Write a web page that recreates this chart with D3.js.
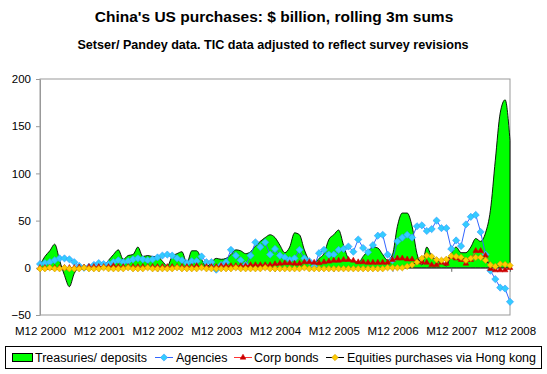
<!DOCTYPE html>
<html>
<head>
<meta charset="utf-8">
<script src="https://cdn.jsdelivr.net/npm/d3@7"></script>
<style>
  body { margin: 0; background: #fff; }
  svg { display: block; font-family: Arial, "Liberation Sans", sans-serif; }
</style>
</head>
<body>
<div id="chart"></div>
<script>
// months M12 2000 .. M12 2008
const months = ['M12 2000'];
for (let yr = 2001; yr <= 2008; yr++) {
    for (let m = 1; m <= 12; m++) months.push('M' + m + ' ' + yr);
}
const xLabels = ['M12 2000', 'M12 2001', 'M12 2002', 'M12 2003', 'M12 2004',
    'M12 2005', 'M12 2006', 'M12 2007', 'M12 2008'];
const yTicks = [-50, 0, 50, 100, 150, 200];

const treasuries = [3, 12, 18, 25, 8, -8, -20, -6, 0, 0,
    0, 1, 1, 2, 8, 14, 19, 9, 13, 14,
    22, 12, 13, 12, 12, 7, 2, 12, 15, 17,
    5, 18, 18, 9, 1, 6, 10, 9, 10, 14,
    19, 18, 15, 17, 23, 28, 32, 35, 32, 24,
    16, 22, 37, 35, 19, 8, 5, 10, 15, 30,
    35, 40, 24, 10, 7, 5, 12, 18, 22, 21,
    14, 8, 14, 44, 58, 58, 44, 15, 3, 22,
    12, 7, 6, 2, 15, 22, 16, 16, 22, 31,
    28, 37, 61, 114, 164, 178, 135];
const agencies = [4, 5, 6, 8, 10, 10, 9, 6, 2, 0,
    1, 3, 5, 4, 4, 6, 8, 6, 7, 9,
    10, 9, 8, 9, 11, 13, 14, 13, 10, 8,
    5, 7, 7, 12, 6, 6, -2, 3, 6, 19,
    13, 8, 3, 13, 27, 22, 27, 14, 20, 13,
    11, 8.5, 10, 19, 10, 7, 1.5, 15.5, 19, 14,
    14, 19, 20, 22.5, 17, 30, 21, 16.5, 24, 34,
    35, 14, 8, 28, 32, 35, 32, 44, 45, 39,
    41, 50, 42, 42, 20, 29, 23, 46, 54, 56,
    38, 14, -3, -12, -21, -22, -36];
const corpBonds = [0, 0, 0, 0, 0, 0, 0, 0, 0.5, 0.5,
    1, 1, 1, 1, 1, 2, 1, 1, 1, 1,
    1, 1, 1, 1, 1, 1, 1, 1, 1, 1,
    1, 1, 2, 1, 1, 1, 1, 2, 2, 2,
    2, 2, 2, 3, 3, 3, 3, 3, 4, 4.5,
    5, 5, 4.5, 4.5, 6, 6, 5.5, 5, 6, 6.7,
    7.7, 7.7, 8.5, 8.5, 7.7, 6, 6, 5.5, 5.5, 5.5,
    5.5, 5.5, 8.5, 10, 10, 9, 9, 6.5, 6, 5.5,
    3, 3, 5.5, 4.5, 11.5, 10, 8.5, 4.5, 8.5, 18,
    18, 13, -1, -2.5, -2.5, -2.5, 0];
const equities = [-1, -1, 0, -1, -1, 0, -1, -1, -1, 0,
    -1, -1, -1, 0, -1, -1, -1, -1, 0, -1,
    -1, -1, 0, -1, -1, -1, -1, -1, 0, -1,
    -1, -1, -1, 0, -1, -1, -1, -1, -1, -1,
    0, -1, -1, -1, -1, -1, 0, -1, -1, -1,
    -1, -1, -1, -1, 0, -1, -1, -1, -1, -1,
    -1, -1, -1, -1, -1, -1, -1, -1, -1, -1,
    -1, 0, 0, 0, 0, 1.5, 3, 6, 10, 13,
    12, 8.5, 8, 9, 12.5, 12, 11, 8, 10, 11,
    11, 8, 3, 1.5, 4, 3.5, 2.5];

const width = 547, height = 374;
const plot = {left: 40, right: 510, top: 79, bottom: 315};

const svg = d3.select('#chart').append('svg')
    .attr('width', width)
    .attr('height', height);

const x = d3.scalePoint()
    .domain(months)
    .range([plot.left, plot.right]);
const y = d3.scaleLinear()
    .domain([-50, 200])
    .range([plot.bottom, plot.top]);

// titles
svg.append('text')
    .attr('x', 274).attr('y', 22)
    .attr('text-anchor', 'middle')
    .attr('font-size', 15.5).attr('font-weight', 'bold')
    .text("China's US purchases: $ billion, rolling 3m sums");
svg.append('text')
    .attr('x', 273).attr('y', 48.5)
    .attr('text-anchor', 'middle')
    .attr('font-size', 12.6).attr('font-weight', 'bold')
    .text('Setser/ Pandey data. TIC data adjusted to reflect survey revisions');

// plot frame
svg.append('rect')
    .attr('x', plot.left).attr('y', plot.top)
    .attr('width', plot.right - plot.left)
    .attr('height', plot.bottom - plot.top)
    .attr('fill', 'none')
    .attr('stroke', '#999');

// treasuries area
const area = d3.area()
    .x((d, i) => x(months[i]))
    .y0(y(0))
    .y1(d => y(d))
    .curve(d3.curveMonotoneX);
svg.append('path')
    .datum(treasuries)
    .attr('d', area)
    .attr('fill', '#00ff00')
    .attr('stroke', '#000')
    .attr('stroke-width', 0.9);

// axes
const yAxis = svg.append('g')
    .attr('transform', `translate(${plot.left},0)`)
    .call(d3.axisLeft(y).tickValues(yTicks).tickSize(4).tickPadding(5).tickSizeOuter(0));
yAxis.select('.domain').attr('stroke', '#999');
yAxis.selectAll('line').attr('stroke', '#999');
yAxis.selectAll('text').attr('font-size', 11.5).attr('fill', '#000')
    .attr('font-family', 'Arial, "Liberation Sans", sans-serif');

const zeroAxis = svg.append('g')
    .attr('transform', `translate(0,${y(0)})`)
    .call(d3.axisBottom(x).tickValues(xLabels).tickFormat('').tickSize(4).tickSizeOuter(0));
zeroAxis.select('.domain').attr('stroke', '#666');
zeroAxis.selectAll('line').attr('stroke', '#666');

const labelAxis = svg.append('g')
    .attr('transform', `translate(0,${plot.bottom})`)
    .call(d3.axisBottom(x).tickValues(xLabels).tickSize(0).tickPadding(12));
labelAxis.select('.domain').remove();
labelAxis.selectAll('text').attr('font-size', 11.5).attr('fill', '#000')
    .attr('font-family', 'Arial, "Liberation Sans", sans-serif');

// line series
const diamond = r => `M0,${-r}L${r},0L0,${r}L${-r},0Z`;
const line = d3.line()
    .x((d, i) => x(months[i]))
    .y(d => y(d));

const series = [
    {name: 'Agencies', values: agencies, line: '#3366ff', fill: '#33ccff', stroke: '#3399ff',
        shape: diamond(3.6)},
    {name: 'Corp bonds', values: corpBonds, line: '#ff3333', fill: '#cc0000', stroke: '#cc0000',
        shape: d3.symbol(d3.symbolTriangle, 14)()},
    {name: 'Equities purchases via Hong kong', values: equities, line: '#000', fill: '#ffcc00',
        stroke: '#cc9900', shape: diamond(3.2)}
];

series.forEach(s => {
    const g = svg.append('g');
    g.append('path')
        .datum(s.values)
        .attr('d', line)
        .attr('fill', 'none')
        .attr('stroke', s.line)
        .attr('stroke-width', 1);
    g.selectAll('path.mk')
        .data(s.values)
        .join('path')
        .attr('class', 'mk')
        .attr('transform', (d, i) => `translate(${x(months[i])},${y(d)})`)
        .attr('d', s.shape)
        .attr('fill', s.fill)
        .attr('stroke', s.stroke)
        .attr('stroke-width', 0.6);
});

// legend
const legend = svg.append('g');
legend.append('rect')
    .attr('x', 5.5).attr('y', 346.5)
    .attr('width', 536).attr('height', 22)
    .attr('fill', '#fff').attr('stroke', '#000');
const ly = 357.5;
legend.append('rect')
    .attr('x', 12.5).attr('y', ly - 4)
    .attr('width', 20).attr('height', 8)
    .attr('fill', '#00ff00').attr('stroke', '#000');
legend.append('text').attr('x', 35).attr('y', ly + 4.5)
    .attr('font-size', 12.5).text('Treasuries/ deposits');

const legendItems = [
    {x0: 155, tx: 176},
    {x0: 234, tx: 254},
    {x0: 326, tx: 347}
];
series.forEach((s, k) => {
    const it = legendItems[k];
    legend.append('line')
        .attr('x1', it.x0).attr('x2', it.x0 + 18)
        .attr('y1', ly).attr('y2', ly)
        .attr('stroke', s.line);
    legend.append('path')
        .attr('transform', `translate(${it.x0 + 9},${ly})`)
        .attr('d', s.shape)
        .attr('fill', s.fill).attr('stroke', s.stroke).attr('stroke-width', 0.6);
    legend.append('text').attr('x', it.tx).attr('y', ly + 4.5)
        .attr('font-size', 12.5).text(s.name);
});
</script>
</body>
</html>
